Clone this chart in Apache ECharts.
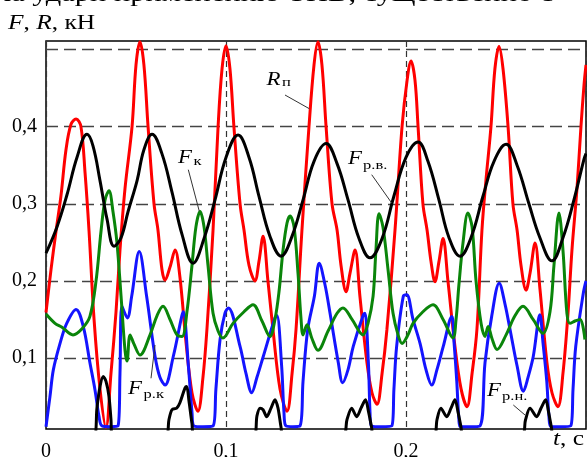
<!DOCTYPE html>
<html><head><meta charset="utf-8">
<script src="https://cdn.jsdelivr.net/npm/echarts@6/dist/echarts.min.js"></script>
<style>html,body{margin:0;padding:0;background:#fff}#c{width:587px;height:457px}</style>
</head><body><div id="c"></div>
<script>
// ---- data (t in s, force in kN) ----
const redRp = [[0,0.159],[0.0028,0.215],[0.0056,0.265],[0.0083,0.31],[0.0111,0.37],[0.0139,0.403],[0.0167,0.41],[0.0194,0.4],[0.0217,0.34],[0.0239,0.265],[0.0267,0.15],[0.03,0.06],[0.0333,0.01],[0.0361,0.08],[0.0389,0.16],[0.0411,0.24],[0.0439,0.32],[0.0478,0.4],[0.05,0.48],[0.0522,0.51],[0.0544,0.48],[0.0567,0.4],[0.06,0.3],[0.0622,0.266],[0.0644,0.215],[0.0661,0.201],[0.0689,0.218],[0.0717,0.24],[0.0744,0.205],[0.0778,0.12],[0.0811,0.055],[0.0844,0.031],[0.0872,0.075],[0.0894,0.137],[0.0928,0.266],[0.0956,0.4],[0.0978,0.475],[0.1,0.505],[0.1022,0.475],[0.1044,0.4],[0.1078,0.3],[0.11,0.266],[0.1128,0.22],[0.1161,0.2],[0.1183,0.225],[0.1206,0.258],[0.1233,0.2],[0.1261,0.137],[0.13,0.06],[0.1339,0.031],[0.1367,0.08],[0.1389,0.137],[0.1422,0.266],[0.1461,0.4],[0.1489,0.48],[0.1511,0.51],[0.1533,0.48],[0.1556,0.4],[0.1589,0.3],[0.1617,0.266],[0.1639,0.22],[0.1667,0.186],[0.1689,0.21],[0.1717,0.24],[0.1744,0.18],[0.1783,0.094],[0.1811,0.055],[0.1839,0.04],[0.1867,0.08],[0.1894,0.137],[0.1939,0.266],[0.1978,0.4],[0.2006,0.46],[0.2028,0.485],[0.205,0.46],[0.2067,0.4],[0.2094,0.3],[0.2117,0.266],[0.2139,0.225],[0.2161,0.199],[0.2183,0.225],[0.2206,0.255],[0.2233,0.2],[0.2272,0.115],[0.2306,0.06],[0.2339,0.037],[0.2367,0.08],[0.2394,0.137],[0.2422,0.266],[0.2444,0.33],[0.2472,0.4],[0.2494,0.475],[0.2517,0.504],[0.2539,0.475],[0.2567,0.4],[0.2594,0.3],[0.2617,0.266],[0.2639,0.22],[0.2667,0.188],[0.2689,0.21],[0.2717,0.249],[0.2744,0.19],[0.2783,0.094],[0.2811,0.055],[0.2844,0.037],[0.2872,0.08],[0.29,0.158],[0.2922,0.24],[0.295,0.32],[0.2972,0.4],[0.2989,0.454],[0.3,0.48]];

const blackFrv = [[0,0.236],[0.0061,0.27],[0.0117,0.312],[0.0172,0.36],[0.0228,0.39],[0.0261,0.375],[0.03,0.33],[0.0339,0.28],[0.0378,0.245],[0.0417,0.256],[0.0456,0.29],[0.0506,0.33],[0.0544,0.37],[0.0589,0.39],[0.0644,0.365],[0.07,0.315],[0.0756,0.26],[0.0817,0.223],[0.0878,0.255],[0.0939,0.305],[0.1,0.36],[0.1067,0.389],[0.1128,0.36],[0.1183,0.31],[0.1244,0.258],[0.1306,0.232],[0.1367,0.258],[0.1428,0.305],[0.1489,0.355],[0.1556,0.378],[0.1617,0.352],[0.1678,0.305],[0.1739,0.255],[0.18,0.23],[0.1867,0.255],[0.1933,0.31],[0.2,0.36],[0.2067,0.38],[0.2122,0.355],[0.2183,0.305],[0.2239,0.256],[0.23,0.232],[0.2361,0.256],[0.2428,0.31],[0.2489,0.355],[0.2556,0.377],[0.2617,0.35],[0.2683,0.3],[0.2744,0.256],[0.2811,0.226],[0.2872,0.256],[0.2933,0.305],[0.2989,0.358],[0.3,0.365]];

const greenFk = [[0,0.157],[0.005,0.145],[0.0089,0.14],[0.015,0.13],[0.02,0.138],[0.0244,0.154],[0.0278,0.2],[0.0306,0.265],[0.0328,0.305],[0.035,0.317],[0.0372,0.29],[0.0394,0.25],[0.0417,0.18],[0.0439,0.11],[0.045,0.096],[0.0467,0.13],[0.0489,0.118],[0.0522,0.104],[0.0578,0.13],[0.0617,0.155],[0.065,0.167],[0.0689,0.15],[0.0728,0.13],[0.0756,0.128],[0.0783,0.16],[0.0811,0.22],[0.0833,0.27],[0.0856,0.29],[0.0878,0.27],[0.09,0.22],[0.0928,0.158],[0.0956,0.135],[0.0983,0.126],[0.1039,0.145],[0.11,0.16],[0.115,0.169],[0.12,0.148],[0.1244,0.128],[0.1272,0.15],[0.1294,0.185],[0.1317,0.24],[0.1339,0.275],[0.1356,0.284],[0.1378,0.27],[0.14,0.21],[0.1417,0.15],[0.1428,0.13],[0.145,0.143],[0.1478,0.125],[0.1511,0.11],[0.1567,0.135],[0.1617,0.158],[0.165,0.165],[0.17,0.15],[0.1761,0.13],[0.1789,0.145],[0.1817,0.18],[0.1833,0.24],[0.185,0.287],[0.1872,0.27],[0.19,0.215],[0.1928,0.158],[0.1956,0.13],[0.1978,0.119],[0.2011,0.13],[0.2039,0.145],[0.2094,0.16],[0.215,0.169],[0.2206,0.15],[0.2261,0.126],[0.2278,0.15],[0.2294,0.195],[0.2317,0.25],[0.2344,0.288],[0.2367,0.27],[0.2389,0.2],[0.2417,0.145],[0.2439,0.128],[0.2456,0.141],[0.2478,0.125],[0.2506,0.111],[0.2556,0.13],[0.2606,0.155],[0.265,0.167],[0.2706,0.15],[0.2761,0.132],[0.28,0.16],[0.2822,0.22],[0.285,0.288],[0.2872,0.24],[0.2894,0.158],[0.2911,0.145],[0.2939,0.148],[0.2967,0.15],[0.2994,0.124]];

const blueFrk = [[0,0.011],[0.0022,0.05],[0.0041,0.085],[0.0078,0.119],[0.0115,0.145],[0.0167,0.163],[0.0207,0.141],[0.0244,0.094],[0.0272,0.059],[0.0294,0.025],[0.0311,0.012],[0.0356,0.011],[0.04,0.012],[0.0411,0.08],[0.0422,0.167],[0.0452,0.152],[0.0476,0.18],[0.0518,0.238],[0.0559,0.18],[0.0606,0.102],[0.0633,0.075],[0.0661,0.065],[0.0707,0.102],[0.0754,0.154],[0.0763,0.16],[0.0791,0.09],[0.0811,0.03],[0.0822,0.012],[0.0872,0.011],[0.0928,0.012],[0.0944,0.06],[0.0967,0.124],[0.0994,0.158],[0.1013,0.165],[0.1078,0.115],[0.1111,0.08],[0.1143,0.055],[0.1172,0.075],[0.1207,0.102],[0.1272,0.152],[0.1283,0.155],[0.1309,0.09],[0.1322,0.03],[0.1333,0.012],[0.1372,0.011],[0.1411,0.012],[0.1428,0.07],[0.1454,0.137],[0.1491,0.18],[0.1518,0.223],[0.155,0.195],[0.1578,0.158],[0.1624,0.094],[0.1648,0.068],[0.1678,0.085],[0.1707,0.115],[0.1763,0.156],[0.1772,0.158],[0.1791,0.094],[0.18,0.03],[0.1808,0.012],[0.1867,0.011],[0.1921,0.012],[0.1933,0.06],[0.1948,0.115],[0.1985,0.18],[0.2004,0.182],[0.2039,0.15],[0.2078,0.119],[0.2111,0.085],[0.2143,0.065],[0.2172,0.085],[0.2207,0.115],[0.2254,0.154],[0.2267,0.12],[0.2282,0.07],[0.2294,0.02],[0.2303,0.011],[0.2356,0.011],[0.2411,0.012],[0.2439,0.094],[0.2476,0.154],[0.2518,0.197],[0.255,0.17],[0.2578,0.137],[0.2617,0.09],[0.2652,0.057],[0.2678,0.075],[0.2707,0.102],[0.2744,0.156],[0.2761,0.12],[0.2782,0.07],[0.2794,0.025],[0.2806,0.011],[0.2861,0.011],[0.2915,0.012],[0.2928,0.06],[0.2943,0.115],[0.2985,0.184],[0.3,0.2]];

const blackFrn = [[0,0],[0.0267,0],[0.0283,0.035],[0.03,0.063],[0.0318,0.076],[0.0333,0.07],[0.035,0.05],[0.0361,0.02],[0.0367,0],
[0.0667,0],[0.0683,0.02],[0.07,0.033],[0.0726,0.035],[0.0744,0.042],[0.0772,0.061],[0.0782,0.063],[0.0794,0.045],[0.0811,0.015],[0.0822,0],
[0.1156,0],[0.1172,0.025],[0.1189,0.035],[0.1206,0.033],[0.1226,0.024],[0.125,0.035],[0.1272,0.046],[0.1289,0.035],[0.1306,0.01],[0.1317,0],
[0.165,0],[0.1672,0.02],[0.1698,0.035],[0.1726,0.024],[0.175,0.035],[0.1775,0.046],[0.1792,0.03],[0.1809,0.01],[0.1817,0],
[0.2156,0],[0.2172,0.02],[0.2194,0.035],[0.2226,0.024],[0.225,0.035],[0.2272,0.046],[0.2289,0.03],[0.2306,0.01],[0.2314,0],
[0.2644,0],[0.2664,0.02],[0.2689,0.035],[0.2726,0.024],[0.275,0.035],[0.2776,0.046],[0.2792,0.03],[0.2808,0.01],[0.2817,0],[0.3,0]];

const yGridValues = [0.1, 0.2, 0.3, 0.4, 0.5];
const yTickLabels = ['0,1', '0,2', '0,3', '0,4', ''];
const xTickValues = [0, 0.1, 0.2];
const xTickLabels = ['0', '0,1', '0,2'];

// ---- layout / style ----
const SERIF = '"Liberation Serif","Times New Roman",serif';
const SX = 1.27;
const annotations = [
  {main:'R', sub:'п',    mx:266.5, mb:86.3,  sx:282,   sb:86.5,  line:[285,95,309.3,108.7]},
  {main:'F', sub:'к',    mx:178,   mb:164.5, sx:193.5, sb:166,   line:[188.3,169.7,199.3,211.3]},
  {main:'F', sub:'р.в.', mx:348,   mb:165,   sx:363,   sb:169.5, line:[371.7,174.7,391.7,203]},
  {main:'F', sub:'р.к',  mx:128,   mb:395,   sx:143.5, sb:398.5, line:[151,378.3,155,345]},
  {main:'F', sub:'р.н.', mx:487,   mb:397,   sx:502,   sb:400.5, line:[513.3,405,525,415]}
];

const graphics = [];
annotations.forEach(a => {
  graphics.push({type:'line', z:100, silent:true, shape:{x1:a.line[0],y1:a.line[1],x2:a.line[2],y2:a.line[3]}, style:{stroke:'#333', lineWidth:1}});
  graphics.push({type:'text', z:100, silent:true, x:a.mx, y:a.mb - 0.3375*18, scaleX:SX,
    style:{text:a.main, fontFamily:SERIF, fontStyle:'italic', fontSize:18, fill:'#000', align:'left', verticalAlign:'middle'}});
  graphics.push({type:'text', z:100, silent:true, x:a.sx, y:a.sb - 0.3375*13, scaleX:SX,
    style:{text:a.sub, fontFamily:SERIF, fontSize:13, fill:'#000', align:'left', verticalAlign:'middle'}});
});
// y-axis title
graphics.push({type:'text', z:100, silent:true, x:8, y:30 - 0.3375*20, scaleX:SX,
  style:{text:'{i|F}, {i|R}, кН', fontFamily:SERIF, fontSize:20, fill:'#000', align:'left', verticalAlign:'middle',
    rich:{i:{fontFamily:SERIF, fontStyle:'italic', fontSize:20, fill:'#000'}}}});
// x-axis title
graphics.push({type:'text', z:100, silent:true, x:553, y:446 - 0.3375*20, scaleX:SX,
  style:{text:'{i|t}, с', fontFamily:SERIF, fontSize:20, fill:'#000', align:'left', verticalAlign:'middle',
    rich:{i:{fontFamily:SERIF, fontStyle:'italic', fontSize:20, fill:'#000'}}}});
// cropped book text line at the top
graphics.push({type:'text', z:100, silent:true, x:-4, y:3 - 0.3375*24, scaleX:SX,
  style:{text:'ла удари применению ТПВ, существенно с', fontFamily:SERIF, fontSize:24, fill:'#000', align:'left', verticalAlign:'middle'}});

function lineSeries(name, data, color, z, smooth) {
  return {type:'line', name, data, z, symbol:'none', showSymbol:false, smooth:smooth, clip:true,
    lineStyle:{color, width:3}, silent:true, animation:false};
}

const chart = echarts.init(document.getElementById('c'), null, {renderer:'canvas'});
const red = lineSeries('Rп', redRp, '#ff0000', 3, 0.35);
red.markLine = {
  silent:true, z:1, symbol:'none', animation:false,
  lineStyle:{color:'#444', width:1.3, type:[12,6]},
  label:{show:true, position:'start', distance:9, formatter:'{b}', fontFamily:SERIF, fontSize:20, color:'#000'},
  emphasis:{disabled:true},
  data: yGridValues.map((v,i) => ({yAxis:v, name:yTickLabels[i]}))
};

chart.setOption({
  animation:false,
  backgroundColor:'#fff',
  grid:{left:46, right:1, top:41, bottom:28, show:true, borderColor:'#000', borderWidth:1.5, backgroundColor:'transparent', outerBoundsMode:'none', containLabel:false},
  xAxis:{type:'value', min:0, max:0.3, interval:0.1,
    axisLine:{show:false}, axisTick:{show:false},
    splitLine:{show:true, lineStyle:{color:'#333', width:1.2, type:[6,4]}},
    axisLabel:{margin:13, fontFamily:SERIF, fontSize:20, color:'#000', showMaxLabel:false,
      formatter: v => { const i = xTickValues.findIndex(x => Math.abs(x - v) < 1e-6); return i >= 0 ? xTickLabels[i] : ''; }}},
  yAxis:{type:'value', min:0.008, max:0.511,
    axisLine:{show:false}, axisTick:{show:false}, axisLabel:{show:false}, splitLine:{show:false}},
  series:[
    red,
    lineSeries('Fр.к', blueFrk, '#1414ff', 4, 0.35),
    lineSeries('Fк', greenFk, '#0a850a', 5, 0.35),
    lineSeries('Fр.в.', blackFrv, '#000000', 6, 0.4),
    lineSeries('Fр.н.', blackFrn, '#000000', 7, 0.3)
  ],
  graphic: graphics
});
</script></body></html>
